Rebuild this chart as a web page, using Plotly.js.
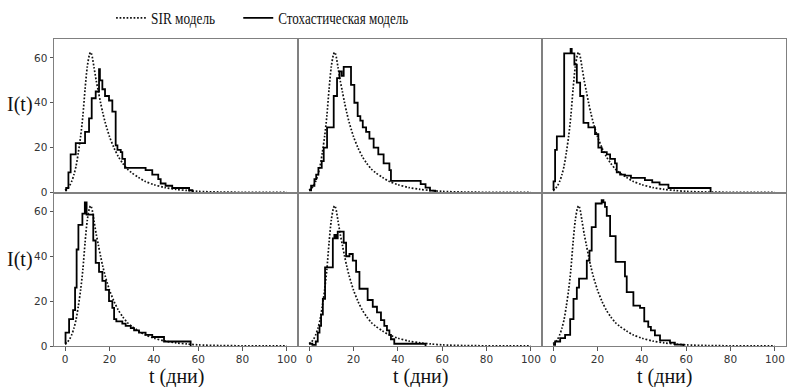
<!DOCTYPE html>
<html><head><meta charset="utf-8">
<script src="https://cdn.plot.ly/plotly-3.0.1.min.js"></script>
<style>html,body{margin:0;padding:0;background:#fff}#chart{width:787px;height:387px}</style>
</head><body><div id="chart"></div>
<script>
// SIR model curve (same in every panel)
const sirT = [0,1,2,3,4,5,6,7,8,9,10,11,11.5,12,13,14,15,16,17,18,20,22,24,26,28,30,33,36,40,45,50,55,60,70,80,90,100];
const sirI = [1,1.8,3,5,8,12,18,25,34,46,56,61.5,62.5,61.5,56,50,45,40,35.5,31.5,25,20,16,13,10.5,8.8,6.8,5,3.5,2.2,1.4,0.9,0.5,0.2,0.1,0.05,0.02];

// Stochastic realisations (step functions)
const stochT1 = [0,0.5,1.5,2.5,4.8,9.0,10.8,12.0,13.8,15.3,15.7,16.8,18.0,19.8,21.3,22.8,23.6,25.1,25.8,27.0,36.3,39.3,42.0,43.1,45.3,48.3,55.9,57.4];
const stochI1 = [1,2,9,17,22,27,33,42,45,55,50,46,43,41,36,21,19,18,15,11,10,8,6,4,3,2,1,0];

const stochT2 = [0,0.9,2.4,3.2,4.2,5.7,6.6,8.1,11.1,12.6,13.7,14.7,15.6,18.9,20.4,21.9,23.1,24.2,25.7,27.2,29.1,31.2,33.6,36.2,36.9,50.3,52.5,54.5,56.8];
const stochI2 = [1,3,6,8,11,14,20,29,43,51,54,52,56,48,40,34,32,29,27,24,20,17,13,10,5.2,3.7,2.2,0.8,0];

const stochT3 = [0,0.2,0.9,1.7,5.0,7.9,8.4,9.6,10.7,12.2,13.7,15.9,18.9,20.4,21.9,24.2,25.7,27.9,28.7,30.2,32.4,35.1,41.4,44.7,48,52,71];
const stochI3 = [1,5,19,25,62,64,62,57,49,43,31,29,26,20,18,17,15,13,9,8,7.5,6.5,5.5,4.5,3.5,2,0];

const stochT4 = [0,0.2,1.8,3.6,4.5,5.2,6.0,7.8,8.9,9.7,12.7,13.8,15.3,16.8,18.3,19.8,21.3,22.1,23.1,25.8,27.3,29.6,31.1,33.3,36.3,39.3,44.6,56.6];
const stochI4 = [1,6,12,16,26,43,54,59,64,58.5,47,37,33,29,25,20,17,12,11,10,9,8,7,6,5,4,2,0];

const stochT5 = [0,1.5,3.0,3.9,4.7,5.4,6.2,7.2,10.7,11.4,12.2,12.9,15.6,16.7,18.2,19.7,21.2,22.7,26.4,28.7,30.6,32.4,33.9,35.1,36.2,36.9,38.4,52.5];
const stochI5 = [1,0.5,2,6,9,14,21,35,48,49.5,48,51,46,40,41,38,33,25.5,20.5,17.5,15,11.5,9,7,5,3,1,0];

const stochT6 = [0,0.9,3.2,5.4,7.7,9.2,10.7,11.7,15.2,16.4,17.4,19.2,21.9,22.7,23.4,24.2,25.7,28.2,32.4,33.2,36.2,39.2,41.1,42.9,44.1,45.9,48.2,52.7,54.9,58.7];
const stochI6 = [0.5,2,3.5,5,12,21,26,30,38,42.5,53,63.5,65,64,62,58,49,37.5,31,24,18,17,11,8.5,7,4.7,2.5,1.5,0.6,0];

const xTicks = [0,20,40,60,80,100];
const yTicks = [0,20,40,60];
const legendNames = ['SIR модель', 'Стохастическая модель'];
const xLabel = 't (дни)';
const yLabel = 'I(t)';

const panels = [[stochT1,stochI1],[stochT2,stochI2],[stochT3,stochI3],[stochT4,stochI4],[stochT5,stochI5],[stochT6,stochI6]];

const traces = [];
const layout = {
  width: 787, height: 387,
  margin: {l: 54, r: 1, t: 38, b: 41},
  paper_bgcolor: '#fff', plot_bgcolor: '#fff',
  showlegend: true,
  legend: {orientation: 'h', x: 0.078, xanchor: 'left', y: 1.064, yanchor: 'middle',
           font: {family: 'Liberation Serif', size: 17, color: '#111'}, itemgap: 18, bgcolor: 'rgba(0,0,0,0)'},
  annotations: []
};

panels.forEach((p, i) => {
  const ax = i === 0 ? '' : String(i + 1);
  const row = i < 3 ? 0 : 1;
  const col = i % 3;
  traces.push({x: sirT, y: sirI, xaxis: 'x' + ax, yaxis: 'y' + ax, mode: 'lines',
    line: {color: '#111', width: 1.7, dash: '1.7px,1.8px', shape: 'spline', smoothing: 0.8},
    name: legendNames[0], legendgroup: 'sir', showlegend: i === 0, hoverinfo: 'skip'});
  traces.push({x: p[0], y: p[1], xaxis: 'x' + ax, yaxis: 'y' + ax, mode: 'lines',
    line: {color: '#000', width: 1.8, shape: 'hv'},
    name: legendNames[1], legendgroup: 'st', showlegend: i === 0, hoverinfo: 'skip'});
  const common = {showline: true, mirror: true, linecolor: '#808080', linewidth: 1, showgrid: false,
    zeroline: false, ticklen: 3.5, tickcolor: '#555', tickwidth: 1,
    tickfont: {family: 'DejaVu Sans', size: 10.5, color: '#333'}, fixedrange: true};
  layout['xaxis' + ax] = Object.assign({}, common, {
    domain: [col / 3, (col + 1) / 3], anchor: 'y' + ax, range: [-5, 105],
    tickmode: 'array', tickvals: xTicks, ticktext: xTicks.map(String),
    ticks: row === 1 ? 'outside' : '', showticklabels: row === 1});
  layout['yaxis' + ax] = Object.assign({}, common, {
    domain: row === 0 ? [0.5, 1] : [0, 0.5], anchor: 'x' + ax, range: [0, 68.4],
    tickmode: 'array', tickvals: yTicks, ticktext: yTicks.map(String),
    ticks: col === 0 ? 'outside' : '', showticklabels: col === 0});
});

// x labels under each column
for (let c = 0; c < 3; c++) {
  layout.annotations.push({text: xLabel, xref: 'paper', yref: 'paper', x: (c + 0.5) / 3, y: -0.1, xanchor: 'center', yanchor: 'middle',
    showarrow: false, font: {family: 'Liberation Serif', size: 20, color: '#111'}});
}
// y labels for each row
[0.786, 0.2825].forEach(yy => {
  layout.annotations.push({text: yLabel, xref: 'paper', yref: 'paper', x: -0.047, y: yy, xanchor: 'center', yanchor: 'middle',
    showarrow: false, font: {family: 'Liberation Serif', size: 20, color: '#111'}});
});

// legend text in the reference is set in a narrow serif: compress glyphs horizontally
const legendTextWidths = [64, 130];
Plotly.newPlot('chart', traces, layout, {displayModeBar: false, staticPlot: true}).then(gd => {
  gd.querySelectorAll('.legend .legendtext').forEach((el, k) => {
    el.setAttribute('textLength', legendTextWidths[k]);
    el.setAttribute('lengthAdjust', 'spacingAndGlyphs');
  });
});
</script></body></html>
